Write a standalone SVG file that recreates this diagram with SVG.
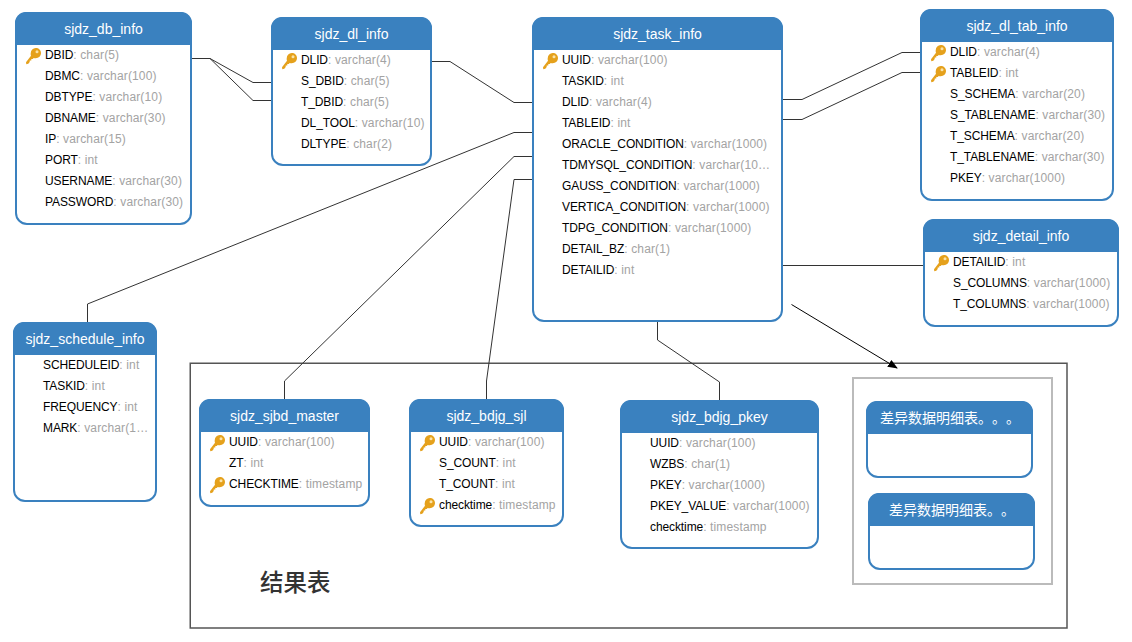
<svg xmlns="http://www.w3.org/2000/svg" width="1132" height="642" viewBox="0 0 1132 642">
<style>
text{font-family:"Liberation Sans","Noto Sans CJK SC",sans-serif}
.b{fill:#fff;stroke:#3a81bf;stroke-width:2}
.h{fill:#3a81bf}
.t{font-size:14px;fill:#fff;text-anchor:middle}
.d{font-size:14px;fill:#fff}
.r{font-size:12px;fill:#000;letter-spacing:-.1px}
.r tspan{fill:#a3a3a3;letter-spacing:.14px}
.c{fill:none;stroke:#333;stroke-width:1}
</style>
<defs>
<symbol id="key" overflow="visible">
<path d="M9.700 0C12.800 0 15 2.100 15 5.100C15 8.200 12.700 10.300 9.700 10.300C9 10.300 8.300 10.200 7.700 9.900L6.700 10.900H5.300V12.500H3.700V14.100L2.300 15.800L0.300 16.300L0 14.200L5 7.800C4.700 7.100 4.600 6.200 4.700 5.200C5 2.100 6.900 0 9.700 0Z" fill="#e5a11c"/>
<circle cx="11" cy="3.700" r="1.500" fill="#fbe3a8"/>
</symbol>
<marker id="arr" markerWidth="10" markerHeight="8" refX="9" refY="4" orient="auto" markerUnits="userSpaceOnUse"><path d="M0 0L10 4L0 8Z" fill="#000"/></marker>
</defs>
<rect width="1132" height="642" fill="#fff"/>
<g id="frames">
<rect x="190.250" y="363.250" width="876.750" height="264.750" fill="none" stroke="#555" stroke-width="1.500"/>
<rect x="853" y="378" width="199" height="206" fill="none" stroke="#bbb" stroke-width="2"/>
<text x="260" y="591" font-size="23.500" font-weight="500" fill="#333">结果表</text>
</g>
<g id="connectors">
<path class="c" d="M192 58.500H210L253 82.500H271M210 58.500L253 100.500H271"/>
<path class="c" d="M432 61.500H450L514 102.500H532"/>
<path class="c" d="M87.500 322V304L514 132.500H532"/>
<path class="c" d="M284.500 399V381L514 156.500H532"/>
<path class="c" d="M486.500 399V381L514 179.500H532"/>
<path class="c" d="M783 99.500H802L902 52.500H920"/>
<path class="c" d="M783 119.500H802L902 72.500H920"/>
<path class="c" d="M783 265.500H923"/>
<path class="c" d="M657.500 322V340L719.500 382V400"/>
<path d="M791.500 304.500L897 368" fill="none" stroke="#000" stroke-width="1" marker-end="url(#arr)"/>
</g>
<g id="sjdz_db_info">
<rect class="b" x="16" y="13" width="175" height="211" rx="11"/>
<path class="h" d="M15 45V23A11 11 0 0 1 26 12H181A11 11 0 0 1 192 23V45Z"/>
<text class="t" x="103.500" y="34">sjdz_db_info</text>
<use href="#key" x="26" y="48"/>
<text class="r" x="45" y="59">DBID<tspan>: char(5)</tspan></text>
<text class="r" x="45" y="80">DBMC<tspan>: varchar(100)</tspan></text>
<text class="r" x="45" y="101">DBTYPE<tspan>: varchar(10)</tspan></text>
<text class="r" x="45" y="122">DBNAME<tspan>: varchar(30)</tspan></text>
<text class="r" x="45" y="143">IP<tspan>: varchar(15)</tspan></text>
<text class="r" x="45" y="164">PORT<tspan>: int</tspan></text>
<text class="r" x="45" y="185">USERNAME<tspan>: varchar(30)</tspan></text>
<text class="r" x="45" y="206">PASSWORD<tspan>: varchar(30)</tspan></text>
</g>
<g id="sjdz_dl_info">
<rect class="b" x="272" y="18" width="159" height="147" rx="11"/>
<path class="h" d="M271 50V28A11 11 0 0 1 282 17H421A11 11 0 0 1 432 28V50Z"/>
<text class="t" x="351.500" y="39">sjdz_dl_info</text>
<use href="#key" x="282" y="53"/>
<text class="r" x="301" y="64">DLID<tspan>: varchar(4)</tspan></text>
<text class="r" x="301" y="85">S_DBID<tspan>: char(5)</tspan></text>
<text class="r" x="301" y="106">T_DBID<tspan>: char(5)</tspan></text>
<text class="r" x="301" y="127">DL_TOOL<tspan>: varchar(10)</tspan></text>
<text class="r" x="301" y="148">DLTYPE<tspan>: char(2)</tspan></text>
</g>
<g id="sjdz_task_info">
<rect class="b" x="533" y="18" width="249" height="303" rx="11"/>
<path class="h" d="M532 50V28A11 11 0 0 1 543 17H772A11 11 0 0 1 783 28V50Z"/>
<text class="t" x="657.500" y="39">sjdz_task_info</text>
<use href="#key" x="543" y="53"/>
<text class="r" x="562" y="64">UUID<tspan>: varchar(100)</tspan></text>
<text class="r" x="562" y="85">TASKID<tspan>: int</tspan></text>
<text class="r" x="562" y="106">DLID<tspan>: varchar(4)</tspan></text>
<text class="r" x="562" y="127">TABLEID<tspan>: int</tspan></text>
<text class="r" x="562" y="148">ORACLE_CONDITION<tspan>: varchar(1000)</tspan></text>
<text class="r" x="562" y="169">TDMYSQL_CONDITION<tspan>: varchar(10…</tspan></text>
<text class="r" x="562" y="190">GAUSS_CONDITION<tspan>: varchar(1000)</tspan></text>
<text class="r" x="562" y="211">VERTICA_CONDITION<tspan>: varchar(1000)</tspan></text>
<text class="r" x="562" y="232">TDPG_CONDITION<tspan>: varchar(1000)</tspan></text>
<text class="r" x="562" y="253">DETAIL_BZ<tspan>: char(1)</tspan></text>
<text class="r" x="562" y="274">DETAILID<tspan>: int</tspan></text>
</g>
<g id="sjdz_dl_tab_info">
<rect class="b" x="921" y="10" width="192" height="190" rx="11"/>
<path class="h" d="M920 42V20A11 11 0 0 1 931 9H1103A11 11 0 0 1 1114 20V42Z"/>
<text class="t" x="1017" y="31">sjdz_dl_tab_info</text>
<use href="#key" x="931" y="45"/>
<use href="#key" x="931" y="66"/>
<text class="r" x="950" y="56">DLID<tspan>: varchar(4)</tspan></text>
<text class="r" x="950" y="77">TABLEID<tspan>: int</tspan></text>
<text class="r" x="950" y="98">S_SCHEMA<tspan>: varchar(20)</tspan></text>
<text class="r" x="950" y="119">S_TABLENAME<tspan>: varchar(30)</tspan></text>
<text class="r" x="950" y="140">T_SCHEMA<tspan>: varchar(20)</tspan></text>
<text class="r" x="950" y="161">T_TABLENAME<tspan>: varchar(30)</tspan></text>
<text class="r" x="950" y="182">PKEY<tspan>: varchar(1000)</tspan></text>
</g>
<g id="sjdz_detail_info">
<rect class="b" x="924" y="220" width="194" height="106" rx="11"/>
<path class="h" d="M923 252V230A11 11 0 0 1 934 219H1108A11 11 0 0 1 1119 230V252Z"/>
<text class="t" x="1021" y="241">sjdz_detail_info</text>
<use href="#key" x="934" y="255"/>
<text class="r" x="953" y="266">DETAILID<tspan>: int</tspan></text>
<text class="r" x="953" y="287">S_COLUMNS<tspan>: varchar(1000)</tspan></text>
<text class="r" x="953" y="308">T_COLUMNS<tspan>: varchar(1000)</tspan></text>
</g>
<g id="sjdz_schedule_info">
<rect class="b" x="14" y="323" width="142" height="178" rx="11"/>
<path class="h" d="M13 355V333A11 11 0 0 1 24 322H146A11 11 0 0 1 157 333V355Z"/>
<text class="t" x="85" y="344">sjdz_schedule_info</text>
<text class="r" x="43" y="369">SCHEDULEID<tspan>: int</tspan></text>
<text class="r" x="43" y="390">TASKID<tspan>: int</tspan></text>
<text class="r" x="43" y="411">FREQUENCY<tspan>: int</tspan></text>
<text class="r" x="43" y="432">MARK<tspan>: varchar(1…</tspan></text>
</g>
<g id="sjdz_sjbd_master">
<rect class="b" x="200" y="400" width="169" height="106" rx="11"/>
<path class="h" d="M199 432V410A11 11 0 0 1 210 399H359A11 11 0 0 1 370 410V432Z"/>
<text class="t" x="284.500" y="421">sjdz_sjbd_master</text>
<use href="#key" x="210" y="435"/>
<use href="#key" x="210" y="477"/>
<text class="r" x="229" y="446">UUID<tspan>: varchar(100)</tspan></text>
<text class="r" x="229" y="467">ZT<tspan>: int</tspan></text>
<text class="r" x="229" y="488">CHECKTIME<tspan>: timestamp</tspan></text>
</g>
<g id="sjdz_bdjg_sjl">
<rect class="b" x="410" y="400" width="153" height="126" rx="11"/>
<path class="h" d="M409 432V410A11 11 0 0 1 420 399H553A11 11 0 0 1 564 410V432Z"/>
<text class="t" x="486.500" y="421">sjdz_bdjg_sjl</text>
<use href="#key" x="420" y="435"/>
<use href="#key" x="420" y="498"/>
<text class="r" x="439" y="446">UUID<tspan>: varchar(100)</tspan></text>
<text class="r" x="439" y="467">S_COUNT<tspan>: int</tspan></text>
<text class="r" x="439" y="488">T_COUNT<tspan>: int</tspan></text>
<text class="r" x="439" y="509">checktime<tspan>: timestamp</tspan></text>
</g>
<g id="sjdz_bdjg_pkey">
<rect class="b" x="621" y="401" width="197" height="147" rx="11"/>
<path class="h" d="M620 433V411A11 11 0 0 1 631 400H808A11 11 0 0 1 819 411V433Z"/>
<text class="t" x="719.500" y="422">sjdz_bdjg_pkey</text>
<text class="r" x="650" y="447">UUID<tspan>: varchar(100)</tspan></text>
<text class="r" x="650" y="468">WZBS<tspan>: char(1)</tspan></text>
<text class="r" x="650" y="489">PKEY<tspan>: varchar(1000)</tspan></text>
<text class="r" x="650" y="510">PKEY_VALUE<tspan>: varchar(1000)</tspan></text>
<text class="r" x="650" y="531">checktime<tspan>: timestamp</tspan></text>
</g>
<g id="diff_1">
<rect class="b" x="867" y="402" width="165" height="75" rx="11"/>
<path class="h" d="M866 434V412A11 11 0 0 1 877 401H1022A11 11 0 0 1 1033 412V434Z"/>
<text class="d" x="880 894 908 922 936 950 964 978 992 1006" y="423">差异数据明细表。。。</text>
</g>
<g id="diff_2">
<rect class="b" x="869" y="494" width="165" height="75" rx="11"/>
<path class="h" d="M868 526V504A11 11 0 0 1 879 493H1024A11 11 0 0 1 1035 504V526Z"/>
<text class="d" x="889 903 917 931 945 959 973 987 1001" y="515">差异数据明细表。。</text>
</g>
</svg>
